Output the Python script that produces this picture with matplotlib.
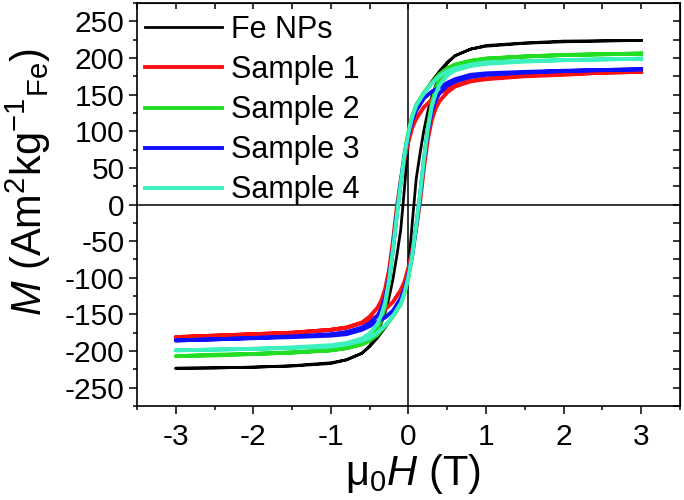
import numpy as np
import matplotlib
matplotlib.use('Agg')
import matplotlib.pyplot as plt
from matplotlib.ticker import MultipleLocator

plt.rcParams['font.family'] = ['Liberation Sans', 'DejaVu Sans']
plt.rcParams['mathtext.fontset'] = 'custom'
plt.rcParams['mathtext.rm'] = 'Liberation Sans'
plt.rcParams['mathtext.it'] = 'Liberation Sans:italic'

# field values of the descending (upper) and ascending (lower) branches, in T
H_UP = [3.0, 2.5, 2.0, 1.5, 1.0, 0.8, 0.6, 0.5, 0.4, 0.3, 0.2, 0.1, 0.05, 0.0,
        -0.05, -0.1, -0.15, -0.2, -0.25, -0.3, -0.35, -0.4, -0.5, -0.6, -0.8,
        -1.0, -1.5, -2.0, -2.5, -3.0]
H_LO = [-3.0, -2.5, -2.0, -1.5, -1.0, -0.8, -0.6, -0.5, -0.4, -0.3, -0.2, -0.1,
        -0.05, 0.0, 0.05, 0.1, 0.15, 0.2, 0.25, 0.3, 0.35, 0.4, 0.5, 0.6, 0.8,
        1.0, 1.5, 2.0, 2.5, 3.0]

# magnetisation, Am^2 kg^-1 (Fe)
fe_up = [224, 223.5, 223, 220.5, 217, 212, 203, 194, 182, 168, 152, 128, 112, 85,
         24, -35, -70, -102, -127, -147, -162, -175, -193, -203, -212, -216,
         -220, -222, -223, -223.5]
fe_lo = [-223.5, -223, -222, -220.5, -217, -212, -203, -194, -182, -168, -152,
         -128, -112, -85, -24, 35, 70, 102, 127, 147, 162, 175, 193, 203, 212,
         216, 220, 222, 223, 224]

s1_up = [181, 180, 178, 176, 172, 169, 163, 158, 152, 143, 133, 117, 105, 86,
         62, 32, -3, -50, -89, -115, -131, -141, -153, -161, -168, -171, -175,
         -177, -179, -181]
s1_lo = [-181, -179, -177, -175, -171, -168, -162, -158, -152, -143, -133, -117,
         -105, -86, -62, -32, 3, 50, 89, 115, 131, 141, 153, 161, 168, 171, 175,
         177, 180, 181]

s2_up = [206, 205, 204, 202, 199, 196, 191, 186, 178, 166, 153, 136, 121, 100,
         70, 32, -12, -62, -105, -138, -158, -170, -183, -190, -196, -199, -202,
         -204, -206, -207]
s2_lo = [-207, -205, -204, -202, -199, -196, -191, -186, -178, -166, -153, -136,
         -121, -100, -70, -32, 12, 62, 105, 138, 158, 170, 183, 190, 196, 199,
         202, 204, 205, 206]

s3_up = [184.5, 183.5, 182.5, 181, 179, 177, 171, 166, 160, 154, 145, 128, 115,
         95, 68, 30, -12, -60, -100, -126, -142, -152, -162, -168, -174, -177,
         -180, -182, -184, -185.5]
s3_lo = [-185.5, -184, -182.5, -181, -179, -177, -171, -166, -160, -154, -145,
         -128, -115, -95, -68, -30, 12, 60, 100, 126, 142, 152, 162, 168, 174,
         177, 180, 182, 183.5, 184.5]

s4_up = [199, 198, 197, 196, 194, 191, 186, 182, 175, 165, 152, 135, 120, 98,
         68, 28, -15, -62, -103, -133, -151, -163, -176, -183, -189, -192, -195,
         -197, -198, -199]
s4_lo = [-199, -198, -197, -196, -194, -191, -186, -182, -175, -165, -152, -135,
         -120, -98, -68, -28, 15, 62, 103, 133, 151, 163, 176, 183, 189, 192,
         195, 197, 198, 199]

labels = ['Fe NPs', 'Sample 1', 'Sample 2', 'Sample 3', 'Sample 4']
branches = [(fe_up, fe_lo), (s1_up, s1_lo), (s2_up, s2_lo),
            (s3_up, s3_lo), (s4_up, s4_lo)]
colors = ['#000000', '#ff1010', '#22dd22', '#1010ff', '#3cf0c0']
widths = [2.0, 2.8, 2.8, 2.8, 2.8]

fig = plt.figure(figsize=(6.84, 5.0), dpi=100)
ax = fig.add_axes([0.2003, 0.188, 0.7937, 0.806])

ax.axhline(0, color='black', lw=1.1, zorder=1)
ax.axvline(0, color='black', lw=1.1, zorder=1)

for (up, lo), lab, c, w in zip(branches, labels, colors, widths):
    h = np.concatenate([H_UP, H_LO])
    m = np.concatenate([up, lo])
    ax.plot(h, m, color=c, lw=w, label=lab, solid_joinstyle='round', zorder=2)

ax.set_xlim(-3.5, 3.5)
ax.set_ylim(-275, 275)
ax.xaxis.set_major_locator(MultipleLocator(1))
ax.xaxis.set_minor_locator(MultipleLocator(0.5))
ax.yaxis.set_major_locator(MultipleLocator(50))
ax.yaxis.set_minor_locator(MultipleLocator(25))
ax.xaxis.set_major_formatter(plt.FuncFormatter(lambda v, _: f'{int(round(v))}'))
ax.yaxis.set_major_formatter(plt.FuncFormatter(lambda v, _: f'{int(round(v))}'))

ax.tick_params(which='both', direction='out', width=1.1, labelsize=21.5,
               top=False, right=False)
ax.tick_params(which='major', length=6, pad=3)
ax.tick_params(which='minor', length=3)
ax.tick_params(axis='x', which='major', pad=6)
for s in ax.spines.values():
    s.set_linewidth(1.2)

# mirrored axes with inward ticks, no labels
top = ax.secondary_xaxis('top')
top.xaxis.set_major_locator(MultipleLocator(0.5))
top.tick_params(direction='in', length=4, width=1.1, labeltop=False)
right = ax.secondary_yaxis('right')
right.yaxis.set_major_locator(MultipleLocator(25))
right.tick_params(direction='in', length=5, width=1.1, labelright=False)

ax.set_xlabel('μ$_0$$H$ (T)', fontsize=30)
ax.set_ylabel('$M$ (Am$^2$kg$^{-1}$$_{\\rm Fe}$)', fontsize=30)
ax.yaxis.set_label_coords(-0.155, 0.555)
ax.xaxis.set_label_coords(0.508, -0.115)

ax.legend(loc='upper left', bbox_to_anchor=(0.015, 0.97), frameon=False,
          fontsize=22, handlelength=2.5, handletextpad=0.3, labelspacing=0.33,
          borderpad=0, borderaxespad=0)

fig.savefig('out.png', dpi=100)
